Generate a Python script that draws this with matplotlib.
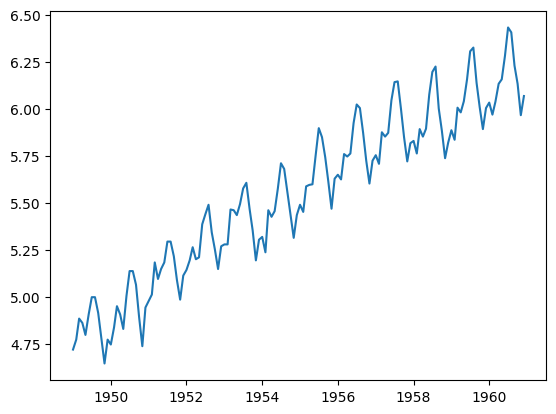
import numpy as np
import pandas as pd
import matplotlib
matplotlib.use('Agg')
import matplotlib.pyplot as plt

# log of monthly airline passengers, 1949-1960
log_passengers = [
    4.718, 4.771, 4.883, 4.860, 4.796, 4.905, 4.997, 4.997, 4.913, 4.779, 4.644, 4.771,  # 1949
    4.745, 4.836, 4.949, 4.905, 4.828, 5.004, 5.136, 5.136, 5.063, 4.890, 4.736, 4.942,  # 1950
    4.977, 5.011, 5.182, 5.094, 5.147, 5.182, 5.293, 5.293, 5.215, 5.088, 4.984, 5.112,  # 1951
    5.142, 5.193, 5.263, 5.199, 5.209, 5.385, 5.438, 5.489, 5.342, 5.252, 5.147, 5.268,  # 1952
    5.278, 5.278, 5.464, 5.460, 5.434, 5.493, 5.576, 5.606, 5.468, 5.352, 5.193, 5.303,  # 1953
    5.318, 5.236, 5.460, 5.425, 5.455, 5.576, 5.710, 5.680, 5.557, 5.434, 5.313, 5.434,  # 1954
    5.489, 5.451, 5.587, 5.595, 5.598, 5.753, 5.897, 5.849, 5.743, 5.613, 5.468, 5.628,  # 1955
    5.649, 5.624, 5.759, 5.746, 5.762, 5.924, 6.023, 6.004, 5.872, 5.724, 5.602, 5.724,  # 1956
    5.753, 5.707, 5.875, 5.852, 5.872, 6.045, 6.142, 6.146, 6.001, 5.849, 5.720, 5.817,  # 1957
    5.829, 5.762, 5.892, 5.852, 5.894, 6.075, 6.196, 6.225, 6.001, 5.883, 5.737, 5.820,  # 1958
    5.886, 5.835, 6.006, 5.981, 6.040, 6.157, 6.306, 6.326, 6.138, 6.009, 5.892, 6.004,  # 1959
    6.033, 5.969, 6.038, 6.133, 6.157, 6.282, 6.433, 6.407, 6.230, 6.133, 5.966, 6.068,  # 1960
]
months = pd.date_range('1949-01-01', periods=len(log_passengers), freq='MS')

plt.figure(figsize=(6.4, 4.8))
plt.plot(months, log_passengers)
plt.savefig('out.png', dpi=100, bbox_inches='tight')
